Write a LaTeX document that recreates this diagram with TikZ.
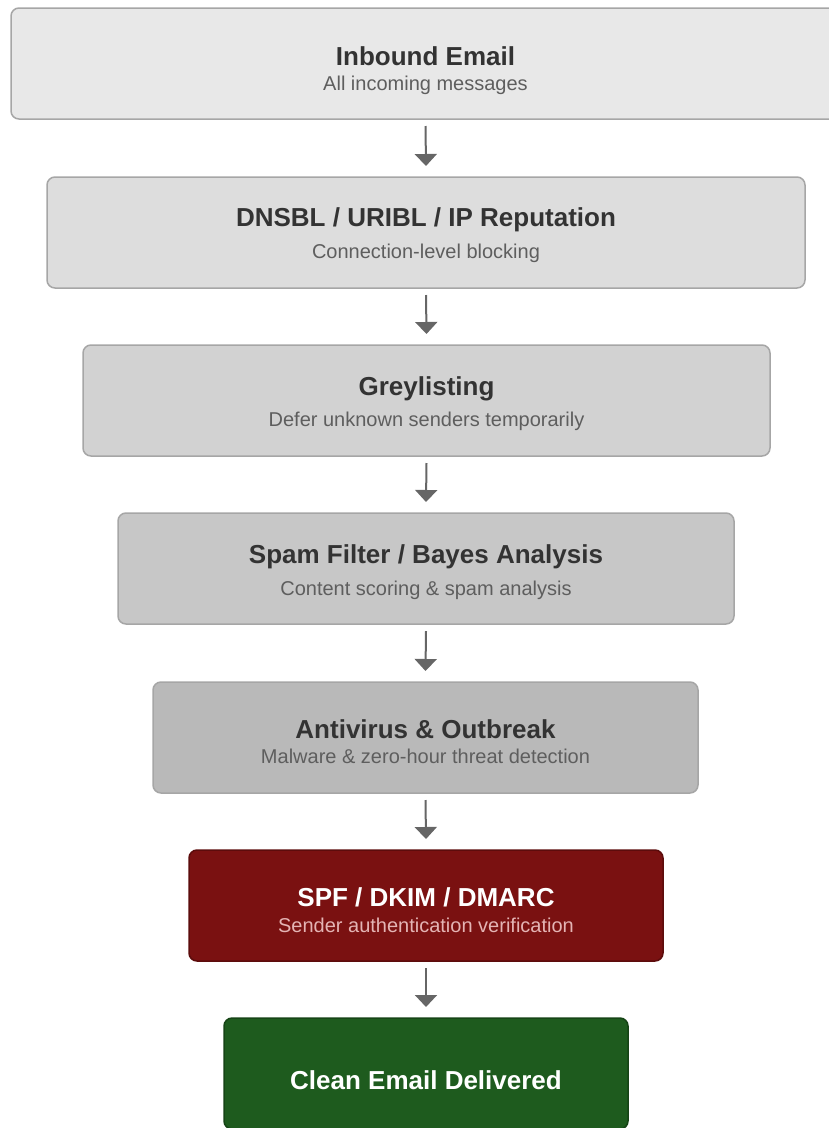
\documentclass[tikz,border=0pt]{standalone}
\usepackage{fontspec}
\setmainfont{Liberation Sans}
\usetikzlibrary{arrows.meta,calc}

\definecolor{boxline}{HTML}{A6A6A6}
\definecolor{fillA}{HTML}{E8E8E8}
\definecolor{fillB}{HTML}{DDDDDD}
\definecolor{fillC}{HTML}{D2D2D2}
\definecolor{fillD}{HTML}{C7C7C7}
\definecolor{fillE}{HTML}{B9B9B9}
\definecolor{authred}{HTML}{7A1111}
\definecolor{authredline}{HTML}{5C0C0C}
\definecolor{authsub}{HTML}{E4B4B4}
\definecolor{okgreen}{HTML}{1E5B1E}
\definecolor{okgreenline}{HTML}{164416}
\definecolor{titlegrey}{HTML}{333333}
\definecolor{subgrey}{HTML}{5E5E5E}
\definecolor{arrowgrey}{HTML}{666666}

\begin{document}
\begin{tikzpicture}[x=1pt,y=-1pt,
  stage/.style={draw=boxline, line width=1.5pt, rounded corners=8pt,
    minimum height=111pt, inner sep=0pt, outer sep=0pt},
  title/.style={anchor=base, inner sep=0pt, text=titlegrey,
    font=\fontsize{26}{30}\selectfont\bfseries},
  subtitle/.style={anchor=base, inner sep=0pt, text=subgrey,
    font=\fontsize{20}{24}\selectfont},
  flow/.style={draw=arrowgrey, line width=2pt,
    -{Triangle[length=12pt,width=22pt]}}]

\useasboundingbox (0,0) rectangle (829,1128);
\clip (0,0) rectangle (829,1128);

% filter stages, top to bottom
\node[stage, fill=fillA, minimum width=829pt] (inbound) at (425.5,63.5) {};
\node[title] (inboundT) at (425.5,65.5) {Inbound Email};
\node[subtitle] (inboundS) at (425.5,90) {All incoming messages};

\node[stage, fill=fillB, minimum width=758pt] (dnsbl) at (426,232.5) {};
\node[title] (dnsblT) at (426,226.5) {DNSBL / URIBL / IP Reputation};
\node[subtitle] (dnsblS) at (426,258) {Connection-level blocking};

\node[stage, fill=fillC, minimum width=687pt] (grey) at (426.5,400.5) {};
\node[title] (greyT) at (426.5,395.5) {Greylisting};
\node[subtitle] (greyS) at (426.5,426.5) {Defer unknown senders temporarily};

\node[stage, fill=fillD, minimum width=616pt] (spam) at (426,568.5) {};
\node[title] (spamT) at (426,563.5) {Spam Filter / Bayes Analysis};
\node[subtitle] (spamS) at (426,595) {Content scoring \& spam analysis};

\node[stage, fill=fillE, minimum width=545pt] (av) at (425.5,737.5) {};
\node[title] (avT) at (425.5,738.5) {Antivirus \& Outbreak};
\node[subtitle] (avS) at (425.5,763.5) {Malware \& zero-hour threat detection};

\node[stage, fill=authred, draw=authredline, minimum width=474pt] (auth) at (426,905.5) {};
\node[title, text=white] (authT) at (426,906.5) {SPF / DKIM / DMARC};
\node[subtitle, text=authsub] (authS) at (426,932) {Sender authentication verification};

\node[stage, fill=okgreen, draw=okgreenline, minimum width=404pt] (clean) at (426,1073.5) {};
\node[title, text=white] (cleanT) at (426,1089.5) {Clean Email Delivered};

% connectors between stages
\foreach \a/\b in {inbound/dnsbl, dnsbl/grey, grey/spam, spam/av, av/auth, auth/clean}
  \draw[flow] ($(\a.south)+(0,7)$) -- ($(\b.north)+(0,-11)$);
\end{tikzpicture}
\end{document}
